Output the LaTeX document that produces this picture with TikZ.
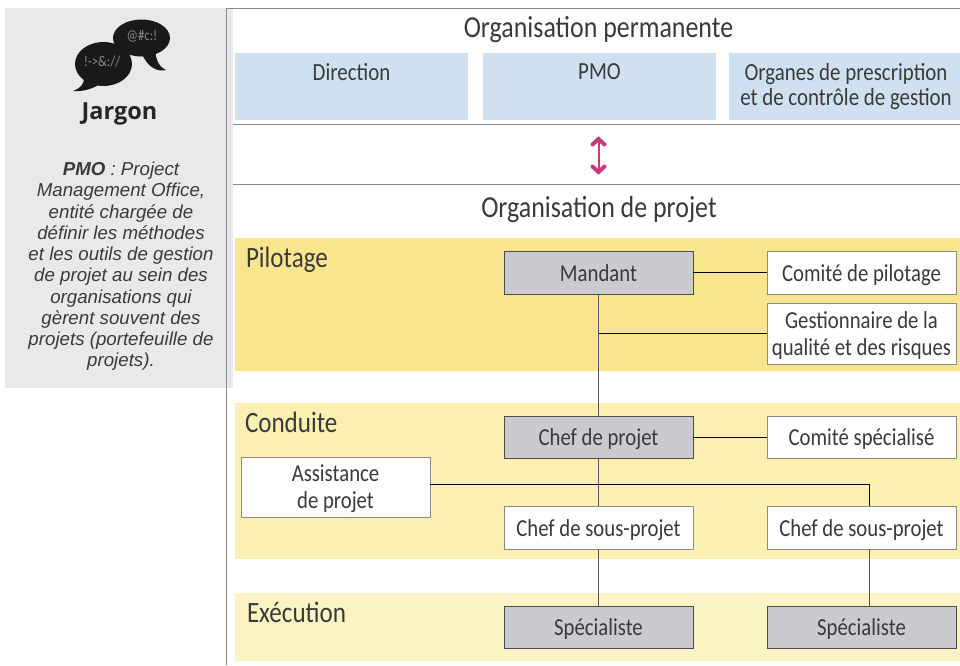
\documentclass[tikz,border=0pt]{standalone}
\usepackage{fontspec}
\setmainfont[FakeStretch=0.85]{Carlito}
\newfontfamily\armfont{Liberation Sans}
\newfontfamily\jarfont{Open Sans}
\newcommand{\firstlinelift}{\rule{0pt}{20pt}}
\definecolor{bandA}{HTML}{FAE58F}
\definecolor{bandB}{HTML}{FBEFB2}
\definecolor{bandC}{HTML}{FBF3C3}
\definecolor{topblue}{HTML}{CFE1F1}
\definecolor{panelgrey}{HTML}{E8E9EB}
\definecolor{boxgrey}{HTML}{C9CBCE}
\definecolor{inkgrey}{HTML}{3A3A3A}
\definecolor{rulegrey}{HTML}{8A8A8A}
\definecolor{magentaarrow}{HTML}{C8387F}
\tikzset{
  x=1pt,y=-1pt,
  every node/.style={text=inkgrey,inner sep=0pt,outer sep=0pt},
  box/.style={draw=rulegrey,line width=1pt,fill=white,minimum width=189pt,font=\fontsize{24.4}{27}\selectfont,align=center},
  oneline/.style={execute at begin node={\rule[-6pt]{0pt}{29pt}}},
  greybox/.style={box,oneline,fill=boxgrey,draw=black!70},
  band/.style={font=\fontsize{29.5}{30}\selectfont,anchor=west},
  title/.style={font=\fontsize{30.5}{32}\selectfont},
  toplabel/.style={font=\fontsize{24.6}{25.5}\selectfont,align=center},
  link/.style={draw=black!65,line width=1pt},
  thinlink/.style={draw=black,line width=.8pt},
  hrule/.style={draw=rulegrey,line width=1.2pt},
  jartext/.style={font=\armfont\fontsize{18.7}{21.25}\selectfont\itshape,align=center},
  bubble/.style={fill=black!90},
  arrowarm/.style={draw=magentaarrow,line width=4pt,line cap=round,line join=miter}
}
\begin{document}
\begin{tikzpicture}
\useasboundingbox (0,0) rectangle (960,665);
% left panel
\fill[panelgrey] (5,8) rectangle (233,388);
\fill[bubble] (141.5,38) ellipse [x radius=28.5,y radius=18.5];
\fill[bubble] (155,50) .. controls (156,60) and (159,67) .. (166,70) .. controls (158,72) and (148,68) .. (142,54) -- cycle;
\fill[bubble] (103.5,64) ellipse [x radius=28.5,y radius=22];
\fill[bubble] (84,78) .. controls (84,84) and (81,88) .. (73,91) .. controls (84,92) and (94,88) .. (100,84) -- cycle;
\node[font=\fontsize{15}{15}\selectfont,text=white!55!black] (bubbleA) at (142,36) {@\#c:!};
\node[font=\fontsize{15}{15}\selectfont,text=white!55!black] (bubbleB) at (102,62) {!->\&://};
\node[font=\jarfont\bfseries\fontsize{23.5}{26}\selectfont,text=black!85] (jargon) at (119.5,114) {Jargon};
\node[jartext] (jartxt) at (121,266.5) {{\bfseries PMO} : Project\\Management Office,\\entité chargée de\\définir les méthodes\\et les outils de gestion\\de projet au sein des\\organisations qui\\gèrent souvent des\\projets (portefeuille de\\projets).};
% frame rules
\draw[rulegrey,line width=1pt] (226,8) -- (226,665);
\draw[rulegrey,line width=1pt] (226,8) -- (960,8);
\draw[hrule] (233,124.5) -- (960,124.5);
\draw[hrule] (233,184.5) -- (960,184.5);
% top
\node[title] (orgperm) at (598.5,30) {Organisation permanente};
\fill[topblue] (235,53) rectangle (468,120);
\fill[topblue] (483,53) rectangle (716,120);
\fill[topblue] (729,53) rectangle (960,120);
\node[toplabel] (direction) at (351.5,72) {Direction};
\node[toplabel] (pmo) at (599.5,72) {PMO};
\node[toplabel] (organes) at (846,86.5) {Organes de prescription\\et de contrôle de gestion};
% arrow
\coordinate (arrtop) at (598.5,139);
\coordinate (arrbot) at (598.5,172);
\draw[magentaarrow,line width=2pt] (arrtop) -- (arrbot);
\draw[arrowarm] (592.5,144.5) -- (arrtop) -- (604.5,144.5);
\draw[arrowarm] (592.5,166.5) -- (arrbot) -- (604.5,166.5);
\node[title] (orgproj) at (599,210) {Organisation de projet};
% bands
\fill[bandA] (235,238) rectangle (960,371);
\fill[bandB] (235,403) rectangle (960,559);
\fill[bandC] (235,593) rectangle (960,661);
\node[band] (pilotage) at (246,260) {Pilotage};
\node[band] (conduite) at (245,422) {Conduite};
\node[band] (execution) at (247,612) {Exécution};
% connectors under the boxes
\coordinate (tee) at (869,484);
% boxes
\node[greybox,minimum height=43pt] (mandant) at (598.5,272.5) {Mandant};
\node[box,oneline,minimum height=43pt] (copil) at (861.5,272.5) {Comité de pilotage};
\node[box,minimum height=61pt] (gest) at (861.5,333.5) {\firstlinelift Gestionnaire de la\\qualité et des risques};
\node[greybox,minimum height=42pt] (chef) at (598.5,437) {Chef de projet};
\node[box,oneline,minimum height=42pt] (cospe) at (861.5,437) {Comité spécialisé};
\node[box,minimum height=60pt] (assist) at (335.5,487) {\firstlinelift Assistance\\de projet};
\node[box,oneline,minimum height=43pt] (sousA) at (598.5,527.5) {Chef de sous-projet};
\node[box,oneline,minimum height=43pt] (sousB) at (861.5,527.5) {Chef de sous-projet};
\node[greybox,minimum height=42pt] (specA) at (598.5,627) {Spécialiste};
\node[greybox,minimum height=42pt] (specB) at (861.5,627) {Spécialiste};
% connectors
\draw[link] (mandant) -- (chef);
\draw[thinlink] (mandant) -- (copil);
\draw[thinlink] (mandant.south |- gest.west) -- (gest.west);
\draw[thinlink] (chef) -- (cospe);
\draw[link] (chef) -- (sousA);
\draw[thinlink] (assist.east |- tee) -- (tee) -- (tee |- sousB.north);
\draw[link] (tee |- sousB.south) -- (tee |- specB.north);
\draw[link] (sousA) -- (specA);
\end{tikzpicture}
\end{document}
